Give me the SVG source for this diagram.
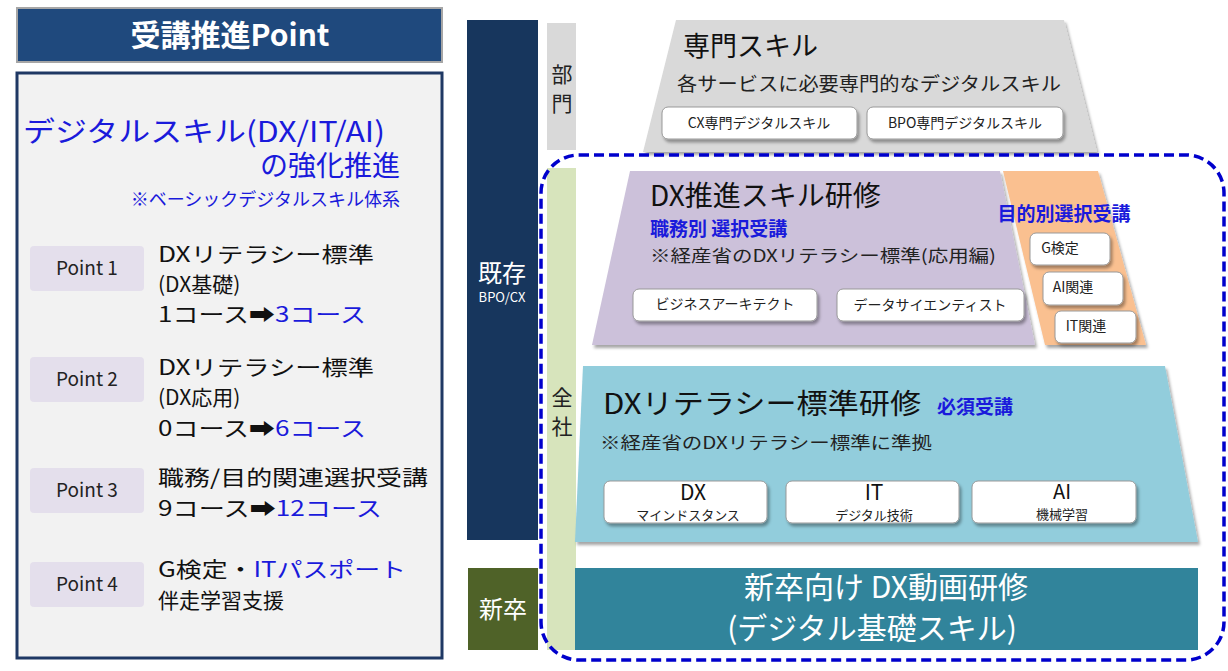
<svg xmlns="http://www.w3.org/2000/svg" width="1228" height="671" viewBox="0 0 1228 671">
<defs>
<filter id="sh" x="-10%" y="-10%" width="130%" height="140%"><feDropShadow dx="2" dy="3" stdDeviation="1.5" flood-color="#000" flood-opacity="0.35"/></filter>
<style>
text{font-family:"Noto Sans CJK JP","Noto Sans",sans-serif;}
.box{fill:#fff;stroke:#999;stroke-width:1;filter:url(#sh);}
.bt{font-size:14px;fill:#222;text-anchor:middle;}
.pt{fill:#e4dfec;}
.ptl{font-size:19px;fill:#222;text-anchor:middle;}
.lt{font-size:21px;fill:#111;}
.bl{fill:#1a1adb;}
.tr{filter:url(#sh);}
</style>
</defs>
<rect width="1228" height="671" fill="#fff"/>
<g id="title"><rect x="17" y="8" width="425" height="54" fill="#1f497d" stroke="#a6a6a6" stroke-width="2"/><text x="230" y="46" font-size="30" font-weight="bold" fill="#fff" text-anchor="middle">受講推進Point</text></g>
<g id="panel"><rect x="17" y="73" width="425" height="585" fill="#f2f2f2" stroke="#1f3864" stroke-width="3"/>
<text x="23" y="142" font-size="28" class="bl" textLength="362" lengthAdjust="spacingAndGlyphs">デジタルスキル(DX/IT/AI)</text>
<text x="400" y="176" font-size="28" class="bl" text-anchor="end">の強化推進</text>
<text x="400" y="206" font-size="18" class="bl" text-anchor="end">※ベーシックデジタルスキル体系</text>
</g>
<g id="p1"><rect class="pt" x="30" y="246" width="114" height="45" rx="4"/><text class="ptl" x="87" y="275">Point 1</text>
<text class="lt" x="158" y="262" textLength="216" lengthAdjust="spacingAndGlyphs">DXリテラシー標準</text><text class="lt" x="158" y="292">(DX基礎)</text><text class="lt" x="158" y="322" textLength="208" lengthAdjust="spacingAndGlyphs">1コース➡<tspan class="bl">3コース</tspan></text></g>
<g id="p2"><rect class="pt" x="30" y="357" width="114" height="45" rx="4"/><text class="ptl" x="87" y="386">Point 2</text>
<text class="lt" x="158" y="375" textLength="216" lengthAdjust="spacingAndGlyphs">DXリテラシー標準</text><text class="lt" x="158" y="405">(DX応用)</text><text class="lt" x="158" y="436" textLength="208" lengthAdjust="spacingAndGlyphs">0コース➡<tspan class="bl">6コース</tspan></text></g>
<g id="p3"><rect class="pt" x="30" y="468" width="114" height="45" rx="4"/><text class="ptl" x="87" y="497">Point 3</text>
<text class="lt" x="158" y="485" textLength="270" lengthAdjust="spacingAndGlyphs">職務/目的関連選択受講</text><text class="lt" x="158" y="516" textLength="224" lengthAdjust="spacingAndGlyphs">9コース➡<tspan class="bl">12コース</tspan></text></g>
<g id="p4"><rect class="pt" x="30" y="562" width="114" height="45" rx="4"/><text class="ptl" x="87" y="591">Point 4</text>
<text class="lt" x="158" y="577" textLength="248" lengthAdjust="spacingAndGlyphs">G検定・<tspan class="bl">ITパスポート</tspan></text><text class="lt" x="158" y="608">伴走学習支援</text></g>

<g id="kizon"><rect x="467" y="20" width="71" height="520" fill="#17365d"/><text x="502" y="282" font-size="24" fill="#fff" text-anchor="middle">既存</text><text x="502" y="302" font-size="13" fill="#fff" text-anchor="middle">BPO/CX</text></g>
<g id="shinsotsu"><rect x="468" y="568" width="70" height="82" fill="#4f6228"/><text x="503" y="618" font-size="24" fill="#fff" text-anchor="middle">新卒</text></g>
<g id="bumon"><rect x="547" y="23" width="29" height="127" fill="#d9d9d9"/><text x="562" y="82" font-size="21" fill="#222" text-anchor="middle">部</text><text x="562" y="111" font-size="21" fill="#222" text-anchor="middle">門</text></g>
<g id="zensha"><rect x="547" y="168" width="29" height="482" fill="#d7e4bc"/><text x="562" y="405" font-size="21" fill="#222" text-anchor="middle">全</text><text x="562" y="434" font-size="21" fill="#222" text-anchor="middle">社</text></g>

<g id="senmon"><polygon class="tr" points="676,20 1064,20 1097,152 643,152" fill="#d9d9d9"/>
<text x="683" y="56" font-size="27" fill="#111">専門スキル</text>
<text x="677" y="91" font-size="19" fill="#222" textLength="384" lengthAdjust="spacingAndGlyphs">各サービスに必要専門的なデジタルスキル</text>
<rect class="box" x="662" y="107" width="195" height="32" rx="6"/><text class="bt" x="759" y="128">CX専門デジタルスキル</text>
<rect class="box" x="867" y="107" width="196" height="32" rx="6"/><text class="bt" x="965" y="128">BPO専門デジタルスキル</text></g>

<g id="suishin"><polygon class="tr" points="630,171 1000,171 1035,345 592,345" fill="#ccc1da"/>
<text x="650" y="206" font-size="28" fill="#111">DX推進スキル研修</text>
<text x="650" y="236" font-size="19" font-weight="bold" class="bl">職務別 選択受講</text>
<text x="650" y="262" font-size="17" fill="#222" textLength="346" lengthAdjust="spacingAndGlyphs">※経産省のDXリテラシー標準(応用編)</text>
<rect class="box" x="633" y="289" width="184" height="32" rx="6"/><text class="bt" x="725" y="309">ビジネスアーキテクト</text>
<rect class="box" x="837" y="289" width="187" height="32" rx="6"/><text class="bt" x="930" y="310">データサイエンティスト</text></g>

<g id="mokuteki"><polygon class="tr" points="1003,171 1098,171 1146,345 1045,345" fill="#fac090"/>
<text x="1064" y="221" font-size="19" font-weight="bold" class="bl" text-anchor="middle">目的別選択受講</text>
<rect class="box" x="1030" y="233" width="80" height="32" rx="6"/><text class="bt" x="1060" y="253">G検定</text>
<rect class="box" x="1043" y="272" width="80" height="33" rx="6"/><text class="bt" x="1073" y="292">AI関連</text>
<rect class="box" x="1055" y="311" width="81" height="32" rx="6"/><text class="bt" x="1086" y="331">IT関連</text></g>

<g id="literacy"><polygon class="tr" points="583,366 1165,366 1198,542 575,542" fill="#92cddc"/>
<text x="603" y="414" font-size="28" fill="#111" textLength="318" lengthAdjust="spacingAndGlyphs">DXリテラシー標準研修</text>
<text x="937" y="414" font-size="19" font-weight="bold" class="bl">必須受講</text>
<text x="600" y="449" font-size="17" fill="#222" textLength="332" lengthAdjust="spacingAndGlyphs">※経産省のDXリテラシー標準に準拠</text>
<rect class="box" x="604" y="481" width="163" height="42" rx="6"/><text x="693" y="500" font-size="21" fill="#111" text-anchor="middle">DX</text><text x="688" y="520" font-size="13" fill="#222" text-anchor="middle">マインドスタンス</text>
<rect class="box" x="786" y="481" width="173" height="42" rx="6"/><text x="874" y="500" font-size="21" fill="#111" text-anchor="middle">IT</text><text x="874" y="520" font-size="13" fill="#222" text-anchor="middle">デジタル技術</text>
<rect class="box" x="972" y="481" width="164" height="42" rx="6"/><text x="1062" y="499" font-size="20" fill="#111" text-anchor="middle">AI</text><text x="1062" y="519" font-size="13" fill="#222" text-anchor="middle">機械学習</text></g>

<g id="douga"><rect x="575" y="568" width="623" height="82" fill="#31849b"/>
<text x="886" y="598" font-size="30" fill="#fff" text-anchor="middle">新卒向け DX動画研修</text>
<text x="872" y="639" font-size="30" fill="#fff" text-anchor="middle">(デジタル基礎スキル)</text></g>

<g id="connectors"><rect x="541" y="155" width="683" height="505" rx="38" fill="none" stroke="#0000cc" stroke-width="3.5" stroke-dasharray="10,5"/></g>
</svg>
